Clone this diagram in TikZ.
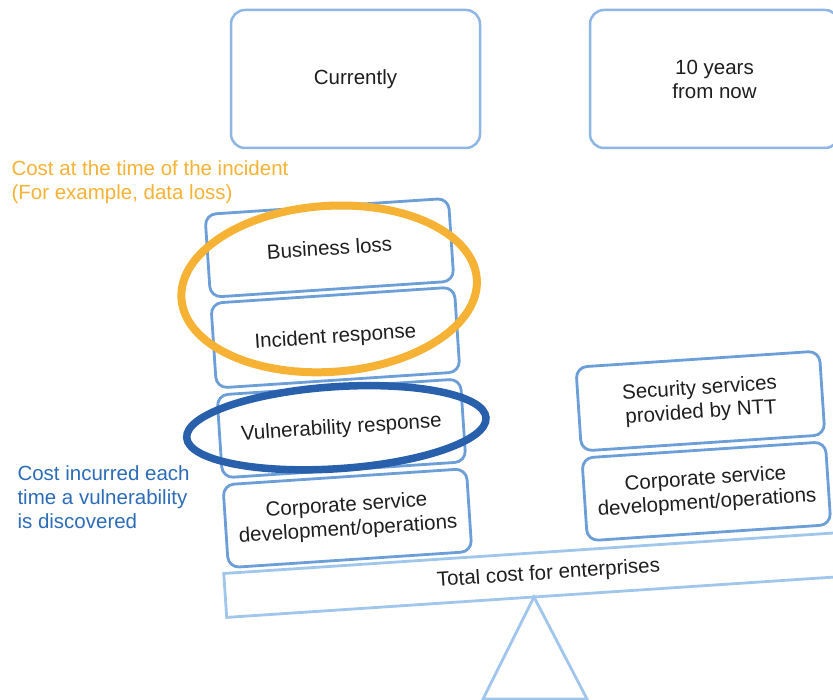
\documentclass[tikz,border=0pt]{standalone}
\usepackage{fontspec}
\setmainfont{Liberation Sans}
\usetikzlibrary{positioning}

\definecolor{topblue}{RGB}{141,182,228}
\definecolor{boxblue}{RGB}{108,158,216}
\definecolor{beamblue}{RGB}{160,198,235}
\definecolor{incorange}{RGB}{245,178,52}
\definecolor{vulnblue}{RGB}{40,96,172}
\definecolor{labelblue}{RGB}{44,108,184}
\definecolor{txtgray}{RGB}{30,30,30}

\begin{document}
\begin{tikzpicture}[x=1pt,y=1pt,
  every node/.style={font=\fontsize{20.5}{24}\selectfont},
  when/.style={draw=topblue,line width=2.5pt,rounded corners=14pt,
    minimum width=249pt,minimum height=138pt,align=center,text=txtgray},
  cost/.style={draw=boxblue,line width=2.8pt,rounded corners=11pt,outer sep=0pt,
    minimum width=244pt,minimum height=83pt,inner sep=0pt,align=center,text=txtgray},
  beam/.style={draw=beamblue,line width=2.8pt,text=txtgray}]

  \clip (0,0) rectangle (833,700);
  \useasboundingbox (0,0) rectangle (833,700);

  \node[when] at (355.5,621) (now) {Currently};
  \node[when] at (714.5,621) (later) {10 years\\from now};

  \node[anchor=west,align=left,text=incorange] at (8,518) (inclabel)
    {Cost at the time of the incident\\(For example, data loss)};
  \node[anchor=west,align=left,text=labelblue] at (14,203) (vulnlabel)
    {Cost incurred each\\time a vulnerability\\is discovered};

  % the seesaw, tilted about the pivot
  \draw[beamblue,line width=2.8pt,line join=miter] (534,103) -- (483,1) -- (587,1) -- cycle;

  \begin{scope}[shift={(534,103)},rotate=3.8,transform shape]
    \node[beam,minimum width=648pt,minimum height=44pt] at (16,22) (total)
      {Total cost for enterprises};

    \node[cost] at (-181,91) (corp) {Corporate service\\development/operations};
    \node[cost,above=7pt of corp] (vuln) {Vulnerability response};
    \node[cost,above=7pt of vuln,minimum height=85pt] (incident) {Incident response};
    \node[cost,above=6pt of incident] (business) {Business loss};

    \node[cost] at (179,94) (corp2) {Corporate service\\development/operations};
    \node[cost,above=7pt of corp2,minimum height=84pt] (ntt) {Security services\\provided by NTT};

    \draw[incorange,line width=8pt] (-184,321) ellipse [x radius=148,y radius=83];
    \draw[vulnblue,line width=7.5pt] (-186,182) ellipse [x radius=150,y radius=41];
  \end{scope}

\end{tikzpicture}
\end{document}
